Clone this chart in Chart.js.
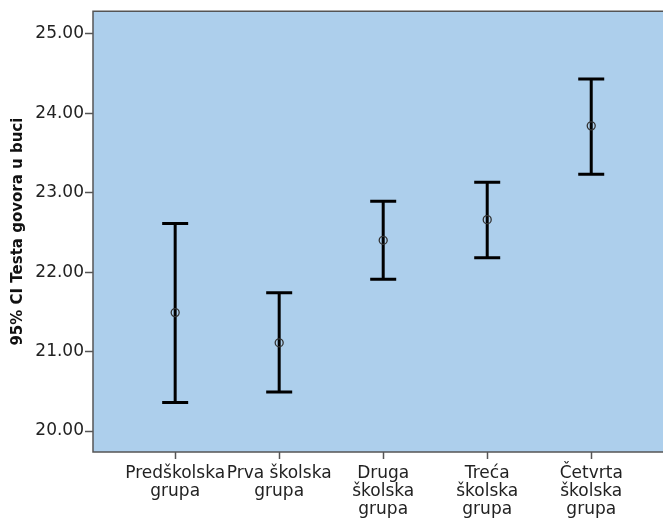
<!DOCTYPE html>
<html>
<head>
<meta charset="utf-8">
<script src="https://cdn.jsdelivr.net/npm/chart.js@4/dist/chart.umd.min.js"></script>
<style>
  html, body { margin: 0; padding: 0; background: #fff; }
  #wrap { width: 663px; height: 518px; }
</style>
</head>
<body>
<div id="wrap"><canvas id="chart" width="663" height="518"></canvas></div>
<script>
// data
var groups = [
  ['Predškolska', 'grupa'],
  ['Prva školska', 'grupa'],
  ['Druga', 'školska', 'grupa'],
  ['Treća', 'školska', 'grupa'],
  ['Četvrta', 'školska', 'grupa']
];
var means = [21.49, 21.11, 22.40, 22.66, 23.84];
var lower = [20.36, 20.49, 21.91, 22.18, 23.23];
var upper = [22.61, 21.74, 22.89, 23.13, 24.43];
var yTicks = [20, 21, 22, 23, 24, 25];
var yTitle = '95% CI Testa govora u buci';

var FONT = 'DejaVu Sans';

// plot background + frame
var plotFrame = {
  id: 'plotFrame',
  beforeDatasetsDraw: function(chart) {
    var a = chart.chartArea, ctx = chart.ctx;
    ctx.save();
    ctx.fillStyle = '#adcfec';
    ctx.fillRect(a.left, a.top, chart.width - a.left, a.bottom - a.top);
    ctx.restore();
  },
  afterDraw: function(chart) {
    var a = chart.chartArea, ctx = chart.ctx;
    ctx.save();
    ctx.strokeStyle = '#555';
    ctx.lineWidth = 1.5;
    ctx.beginPath();
    ctx.moveTo(chart.width, a.top);
    ctx.lineTo(a.left, a.top);
    ctx.lineTo(a.left, a.bottom);
    ctx.lineTo(chart.width, a.bottom);
    ctx.stroke();
    ctx.restore();
  }
};

// whiskers drawn through the scales
var errorBars = {
  id: 'errorBars',
  beforeDatasetsDraw: function(chart) {
    var xs = chart.scales.x, ys = chart.scales.y, ctx = chart.ctx;
    ctx.save();
    ctx.strokeStyle = '#000';
    ctx.lineWidth = 3;
    ctx.lineCap = 'butt';
    for (var i = 0; i < means.length; i++) {
      var x = xs.getPixelForValue(i);
      var capL = xs.getPixelForValue(i - 0.125);
      var capR = xs.getPixelForValue(i + 0.125);
      var yLo = ys.getPixelForValue(lower[i]);
      var yHi = ys.getPixelForValue(upper[i]);
      ctx.beginPath();
      ctx.moveTo(x, yLo); ctx.lineTo(x, yHi);
      ctx.moveTo(capL, yLo); ctx.lineTo(capR, yLo);
      ctx.moveTo(capL, yHi); ctx.lineTo(capR, yHi);
      ctx.stroke();
    }
    ctx.restore();
  }
};

new Chart(document.getElementById('chart'), {
  type: 'scatter',
  data: {
    datasets: [{
      data: means.map(function(m, i) { return { x: i, y: m }; }),
      pointRadius: 4,
      pointBorderWidth: 1.3,
      pointBorderColor: '#333',
      pointBackgroundColor: 'rgba(0,0,0,0)',
      showLine: false
    }]
  },
  options: {
    responsive: false,
    animation: false,
    layout: { autoPadding: false, padding: { top: 10, right: 0, left: 0, bottom: 0 } },
    plugins: {
      legend: { display: false },
      tooltip: { enabled: false }
    },
    scales: {
      x: {
        type: 'linear',
        min: -0.79,
        max: 4.69,
        afterBuildTicks: function(axis) {
          axis.ticks = groups.map(function(g, i) { return { value: i }; });
        },
        afterFit: function(axis) { axis.height = 66; },
        grid: { drawOnChartArea: false, drawTicks: true, tickLength: 7, tickColor: '#555', tickWidth: 1.5 },
        border: { display: false },
        ticks: {
          autoSkip: false,
          maxRotation: 0,
          padding: 5,
          color: '#222',
          font: { family: FONT, size: 17, lineHeight: 1.08 },
          callback: function(v) { return groups[v]; }
        }
      },
      y: {
        min: 19.736,
        max: 25.283,
        afterBuildTicks: function(axis) {
          axis.ticks = yTicks.map(function(v) { return { value: v }; });
        },
        afterFit: function(axis) { axis.width = 93; },
        grid: { drawOnChartArea: false, drawTicks: true, tickLength: 8, tickColor: '#555', tickWidth: 1.5 },
        border: { display: false },
        ticks: {
          padding: 1,
          color: '#222',
          font: { family: FONT, size: 17 },
          callback: function(v) { return v.toFixed(2); }
        },
        title: {
          display: true,
          text: yTitle,
          color: '#111',
          padding: { top: 9, bottom: 0 },
          font: { family: FONT, size: 15, weight: 'bold' }
        }
      }
    }
  },
  plugins: [plotFrame, errorBars]
});
</script>
</body>
</html>
